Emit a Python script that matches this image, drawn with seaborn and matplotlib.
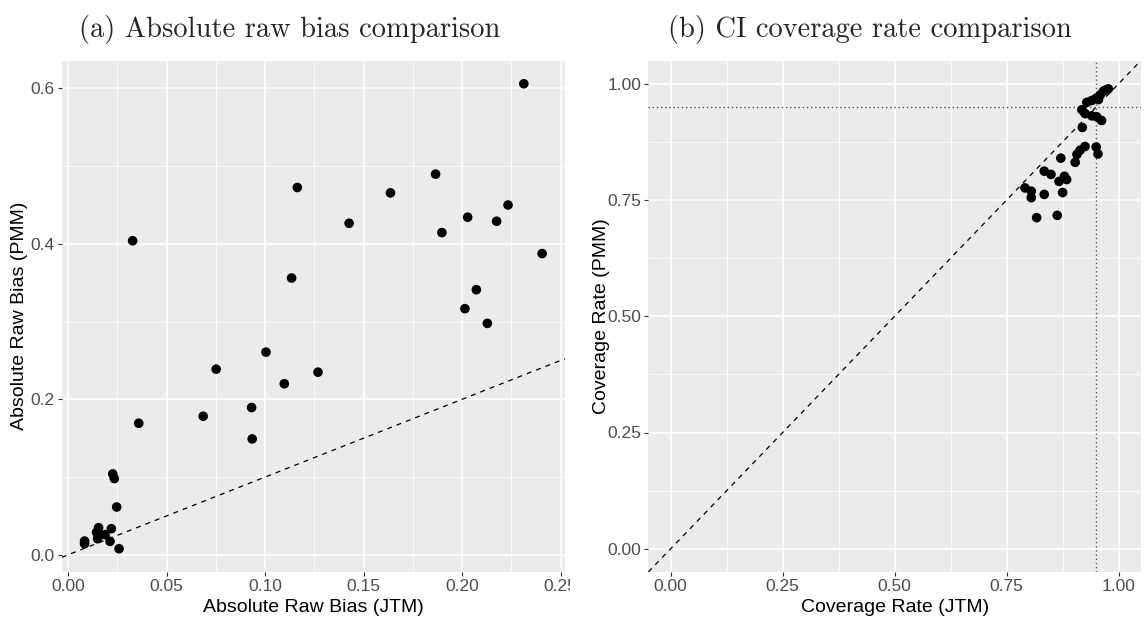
import matplotlib
matplotlib.use("Agg")
import matplotlib.pyplot as plt
import seaborn as sns
import numpy as np
import pandas as pd
from matplotlib.transforms import Bbox
from matplotlib.ticker import MultipleLocator, FormatStrFormatter

# ---------------- data ----------------
jtm_bias = [0.0327, 0.1163, 0.1134, 0.2313, 0.1426, 0.1636, 0.1865, 0.1897, 0.2028,
            0.2175, 0.2233, 0.2406, 0.2072, 0.2014, 0.2128, 0.1004, 0.0751, 0.1268,
            0.1097, 0.0931, 0.0685, 0.0934, 0.0358, 0.0226, 0.0234, 0.0246, 0.0154,
            0.0144, 0.0187, 0.0219, 0.0149, 0.0083, 0.0083, 0.0212, 0.0258]
pmm_bias = [0.404, 0.4725, 0.356, 0.606, 0.4265, 0.4656, 0.4897, 0.4145, 0.4343,
            0.4291, 0.450, 0.3875, 0.341, 0.3166, 0.2977, 0.2607, 0.2388, 0.2349,
            0.220, 0.1894, 0.1782, 0.149, 0.1692, 0.104, 0.098, 0.0614, 0.0348,
            0.0288, 0.0258, 0.0335, 0.0206, 0.0176, 0.0142, 0.0172, 0.0077]

jtm_cov = [0.977, 0.970, 0.966, 0.959, 0.955, 0.950, 0.940, 0.929, 0.918, 0.925, 0.940,
           0.951, 0.962, 0.919, 0.925, 0.914, 0.907, 0.903, 0.950, 0.954, 0.871,
           0.834, 0.849, 0.879, 0.884, 0.867, 0.791, 0.805, 0.805, 0.834, 0.875,
           0.817, 0.863]
pmm_cov = [0.989, 0.986, 0.984, 0.976, 0.966, 0.969, 0.964, 0.960, 0.944, 0.936, 0.931,
           0.929, 0.921, 0.906, 0.865, 0.857, 0.848, 0.831, 0.864, 0.849, 0.840,
           0.812, 0.805, 0.801, 0.794, 0.790, 0.776, 0.769, 0.755, 0.762, 0.766,
           0.712, 0.717]

bias_xticks = [0.00, 0.05, 0.10, 0.15, 0.20, 0.25]
bias_yticks = [0.0, 0.2, 0.4, 0.6]
cov_ticks = [0.00, 0.25, 0.50, 0.75, 1.00]
nominal = 0.95

titles = ["(a) Absolute raw bias comparison", "(b) CI coverage rate comparison"]

df_bias = pd.DataFrame({"JTM": jtm_bias, "PMM": pmm_bias})
df_cov = pd.DataFrame({"JTM": jtm_cov, "PMM": pmm_cov})

# ---------------- style ----------------
sns.set_theme(style="darkgrid", rc={
    "axes.facecolor": "#EBEBEB",
    "grid.color": "white",
    "axes.edgecolor": "#EBEBEB",
    "xtick.color": "#333333",
    "ytick.color": "#333333",
    "xtick.labelcolor": "#4D4D4D",
    "ytick.labelcolor": "#4D4D4D",
    "xtick.bottom": True,
    "ytick.left": True,
    "xtick.major.size": 3.2,
    "ytick.major.size": 3.2,
    "xtick.major.width": 0.8,
    "ytick.major.width": 0.8,
    "xtick.major.pad": 2,
    "ytick.major.pad": 2,
})
plt.rcParams["font.family"] = ["Liberation Sans", "DejaVu Sans"]

fig = plt.figure(figsize=(11.46, 6.21), dpi=100)
W, H = 1146, 621
axL = fig.add_axes([61.7 / W, 1 - 572 / H, (565 - 61.7) / W, (572 - 60.5) / H])
axR = fig.add_axes([648.3 / W, 1 - 572 / H, (1141 - 648.3) / W, (572 - 60.5) / H])


def expand(vals, frac=0.05):
    lo, hi = min(vals), max(vals)
    d = (hi - lo) * frac
    return lo - d, hi + d


def style_axis(ax, minor_x, minor_y):
    for s in ax.spines.values():
        s.set_visible(False)
    ax.xaxis.set_minor_locator(MultipleLocator(minor_x))
    ax.yaxis.set_minor_locator(MultipleLocator(minor_y))
    ax.grid(which="major", color="white", linewidth=1.1)
    ax.grid(which="minor", color="white", linewidth=0.55)
    ax.tick_params(which="minor", length=0)
    ax.tick_params(axis="both", which="major", labelsize=12.5)
    ax.set_axisbelow(True)


# ---- left panel ----
sns.scatterplot(data=df_bias, x="JTM", y="PMM", ax=axL, color="black",
                s=48, edgecolor="none", linewidth=0, zorder=3)
axL.axline((0, 0), slope=1, color="black", linestyle=(0, (4, 4)), linewidth=0.9, zorder=2)
axL.set_xlim(*expand(jtm_bias))
axL.set_ylim(*expand(pmm_bias))
axL.set_xticks(bias_xticks)
axL.set_yticks(bias_yticks)
axL.xaxis.set_major_formatter(FormatStrFormatter("%.2f"))
axL.yaxis.set_major_formatter(FormatStrFormatter("%.1f"))
style_axis(axL, 0.025, 0.1)
axL.set_xlabel("Absolute Raw Bias (JTM)", fontsize=14, color="black")
axL.set_ylabel("Absolute Raw Bias (PMM)", fontsize=14, color="black")

# ---- right panel ----
sns.scatterplot(data=df_cov, x="JTM", y="PMM", ax=axR, color="black",
                s=48, edgecolor="none", linewidth=0, zorder=3)
axR.axline((0, 0), slope=1, color="black", linestyle=(0, (4, 4)), linewidth=0.9, zorder=2)
axR.axhline(nominal, color="#555555", linestyle=(0, (1, 2)), linewidth=1.0, zorder=2)
axR.axvline(nominal, color="#555555", linestyle=(0, (1, 2)), linewidth=1.0, zorder=2)
axR.set_xlim(*expand([0, 1]))
axR.set_ylim(*expand([0, 1]))
axR.set_xticks(cov_ticks)
axR.set_yticks(cov_ticks)
axR.xaxis.set_major_formatter(FormatStrFormatter("%.2f"))
axR.yaxis.set_major_formatter(FormatStrFormatter("%.2f"))
style_axis(axR, 0.125, 0.125)
axR.set_xlabel("Coverage Rate (JTM)", fontsize=14, color="black")
axR.set_ylabel("Coverage Rate (PMM)", fontsize=14, color="black")

for ax in (axL, axR):
    ax.xaxis.set_label_coords(0.5, -0.052)
axL.yaxis.set_label_coords(-0.066, 0.5)
axR.yaxis.set_label_coords(-0.078, 0.5)

# clip left panel tick labels at the sub-figure edge
fig.canvas.draw()
clip = Bbox.from_extents(0, 0, 570, H)
for lab in axL.get_xticklabels():
    lab.set_clip_box(clip)
    lab.set_clip_on(True)

fig.text(290 / W, 1 - 29 / H, titles[0], family="cmr10", fontsize=20.5,
         ha="center", va="center")
fig.text(870 / W, 1 - 29 / H, titles[1], family="cmr10", fontsize=20.5,
         ha="center", va="center")

fig.savefig("out.png", dpi=100, facecolor="white")
